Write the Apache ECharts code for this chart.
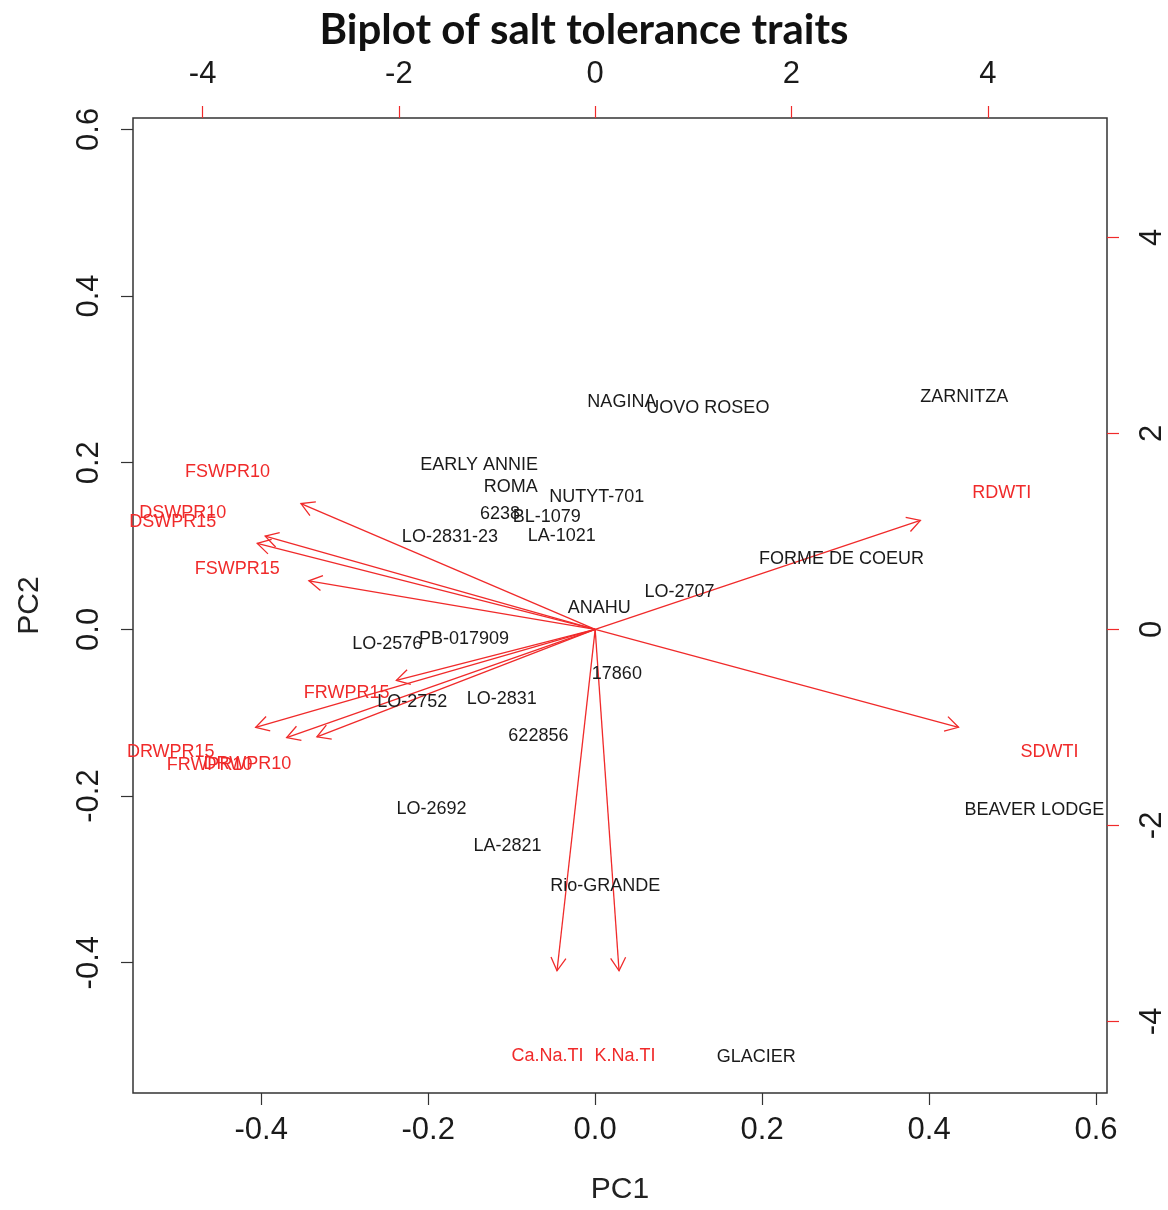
<!DOCTYPE html>
<html>
<head>
<meta charset="utf-8">
<script src="https://cdn.jsdelivr.net/npm/echarts@6/dist/echarts.min.js"></script>
<style>
html,body{margin:0;padding:0;background:#fff;}
#chart{width:1168px;height:1210px;}
</style>
</head>
<body>
<div id="chart"></div>
<script>
// Genotype scores (PC1, PC2) — bottom/left axes
const genotypes = ["NAGINA","UOVO ROSEO","ZARNITZA","EARLY ANNIE","ROMA","NUTYT-701","6238","BL-1079","LO-2831-23","LA-1021","FORME DE COEUR","LO-2707","ANAHU","LO-2576","PB-017909","17860","LO-2752","LO-2831","622856","LO-2692","LA-2821","Rio-GRANDE","BEAVER LODGE","GLACIER"];
const genoPC1 = [0.032,0.135,0.442,-0.139,-0.101,0.002,-0.114,-0.058,-0.174,-0.040,0.295,0.101,0.005,-0.249,-0.157,0.026,-0.219,-0.112,-0.068,-0.196,-0.105,0.012,0.526,0.193];
const genoPC2 = [0.273,0.266,0.279,0.197,0.171,0.159,0.139,0.135,0.111,0.112,0.084,0.045,0.026,-0.017,-0.012,-0.054,-0.087,-0.084,-0.128,-0.216,-0.260,-0.308,-0.217,-0.513];

// Trait loadings — top/right axes
const traits = ["FSWPR10","DSWPR10","DSWPR15","FSWPR15","FRWPR15","DRWPR15","FRWPR10","DRWPR10","RDWTI","SDWTI","Ca.Na.TI","K.Na.TI"];
const loadPC1 = [-3.747,-4.203,-4.304,-3.646,-2.532,-4.324,-3.929,-3.544,4.142,4.628,-0.486,0.304];
const loadPC2 = [1.604,1.188,1.096,0.619,-0.650,-1.249,-1.381,-1.371,1.391,-1.249,-4.355,-4.355];
const arrowScale = 0.8; // biplot arrows drawn to 80% of loading

// Tick labels
const pc1Ticks = [-0.4,-0.2,0.0,0.2,0.4,0.6];
const pc2Ticks = [-0.4,-0.2,0.0,0.2,0.4,0.6];
const topTicks = [-4,-2,0,2,4];
const rightTicks = [-4,-2,0,2,4];

const RED = '#f02a2a';
const BLACK = '#1a1a1a';
const FONT = '"Liberation Sans", Arial, sans-serif';

const chart = echarts.init(document.getElementById('chart'), null, {renderer:'canvas'});

function textSeries(names, xs, ys, color, axisIdx) {
  return {
    type: 'custom',
    xAxisIndex: axisIdx, yAxisIndex: axisIdx,
    clip: false,
    silent: true,
    data: names.map((n, i) => [xs[i], ys[i]]),
    renderItem: (params, api) => {
      const p = api.coord([api.value(0), api.value(1)]);
      return {
        type: 'text', x: p[0], y: p[1],
        style: {
          text: names[params.dataIndex], fill: color,
          font: '18px ' + FONT, align: 'center', verticalAlign: 'middle'
        }
      };
    }
  };
}

const noLine = {show: false, onZero: false};

const option = {
  backgroundColor: '#fff',
  animation: false,
  title: {
    text: 'Biplot of salt tolerance traits',
    left: 'center', top: 4, padding: [5, 0, 5, 26],
    textStyle: {fontFamily: 'Lato, "Open Sans", sans-serif', fontWeight: 'bold', fontSize: 42, color: '#111'}
  },
  grid: {left: 133, top: 118, right: 55, bottom: 112, show: true, borderColor: '#333', borderWidth: 1.5, backgroundColor: 'transparent', containLabel: false},
  xAxis: [
    {
      type: 'value', position: 'bottom', min: -0.5536, max: 0.6131,
      splitLine: {show: false}, axisLine: noLine,
      axisTick: {show: true, customValues: pc1Ticks, length: 12, lineStyle: {color: '#333', width: 1.2}},
      axisLabel: {customValues: pc1Ticks, formatter: v => Number(v).toFixed(1), fontSize: 31, color: BLACK, fontFamily: FONT, margin: 22},
      name: 'PC1', nameLocation: 'middle', nameGap: 82,
      nameTextStyle: {fontSize: 30, color: '#222', fontFamily: FONT}
    },
    {
      type: 'value', position: 'top', min: -4.709, max: 5.215,
      splitLine: {show: false}, axisLine: noLine,
      axisTick: {show: true, customValues: topTicks, length: 12, lineStyle: {color: RED, width: 1.2}},
      axisLabel: {customValues: topTicks, formatter: v => String(v), fontSize: 31, color: BLACK, fontFamily: FONT, margin: 28}
    }
  ],
  yAxis: [
    {
      type: 'value', position: 'left', min: -0.5564, max: 0.6137,
      splitLine: {show: false}, axisLine: noLine,
      axisTick: {show: true, customValues: pc2Ticks, length: 12, lineStyle: {color: '#333', width: 1.2}},
      axisLabel: {customValues: pc2Ticks, formatter: v => Number(v).toFixed(1), fontSize: 31, color: BLACK, fontFamily: FONT, margin: 28, rotate: 90},
      name: 'PC2', nameLocation: 'middle', nameGap: 88, nameRotate: 90,
      nameTextStyle: {fontSize: 30, color: '#222', fontFamily: FONT}
    },
    {
      type: 'value', position: 'right', min: -4.731, max: 5.218,
      splitLine: {show: false}, axisLine: noLine,
      axisTick: {show: true, customValues: rightTicks, length: 12, lineStyle: {color: RED, width: 1.2}},
      axisLabel: {customValues: rightTicks, formatter: v => String(v), fontSize: 31, color: BLACK, fontFamily: FONT, margin: 30, rotate: 90}
    }
  ],
  series: [
    {
      type: 'custom',
      xAxisIndex: 1, yAxisIndex: 1,
      clip: false, silent: true,
      data: traits.map((t, i) => [loadPC1[i] * arrowScale, loadPC2[i] * arrowScale]),
      renderItem: (params, api) => {
        const o = api.coord([0, 0]);
        const t = api.coord([api.value(0), api.value(1)]);
        const ang = Math.atan2(t[1] - o[1], t[0] - o[0]);
        const L = 15, a = Math.PI / 6;
        const h1 = [t[0] - L * Math.cos(ang - a), t[1] - L * Math.sin(ang - a)];
        const h2 = [t[0] - L * Math.cos(ang + a), t[1] - L * Math.sin(ang + a)];
        return {
          type: 'group',
          children: [
            {type: 'line', shape: {x1: o[0], y1: o[1], x2: t[0], y2: t[1]}, style: {stroke: RED, lineWidth: 1.3}},
            {type: 'polyline', shape: {points: [h1, t, h2]}, style: {stroke: RED, fill: null, lineWidth: 1.3}}
          ]
        };
      }
    },
    textSeries(genotypes, genoPC1, genoPC2, BLACK, 0),
    textSeries(traits, loadPC1, loadPC2, RED, 1)
  ]
};
chart.setOption(option);
</script>
</body>
</html>
